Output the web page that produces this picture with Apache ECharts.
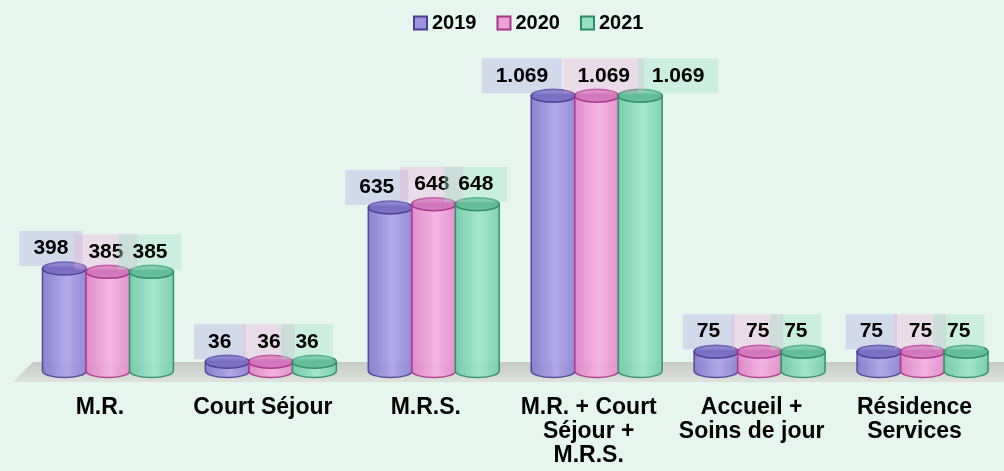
<!DOCTYPE html>
<html>
<head>
<meta charset="utf-8">
<script src="https://cdn.jsdelivr.net/npm/echarts@6/dist/echarts.min.js"></script>
<style>
  html, body { margin: 0; padding: 0; background: #e7f5ef; }
  #main { width: 1004px; height: 471px; }
</style>
</head>
<body>
<div id="main"></div>
<script>
// chart data
var categories = ['M.R.', 'Court Séjour', 'M.R.S.', 'M.R. + Court\nSéjour +\nM.R.S.', 'Accueil +\nSoins de jour', 'Résidence\nServices'];
var years = ['2019', '2020', '2021'];
var values2019 = [398, 36, 635, 1069, 75, 75];
var values2020 = [385, 36, 648, 1069, 75, 75];
var values2021 = [385, 36, 648, 1069, 75, 75];

var font = '"Liberation Sans", Arial, sans-serif';

// look of each cylinder set; spread = how far a long label is pushed aside
var looks = [
  { body: ['#8275ca', '#aca2ea', '#8a7ed0'], top: '#7a6dc4', border: '#4b3f90', legend: '#9d92dc',
    bg: 'rgba(170,165,225,0.35)', align: 'right', dx: 18, spread: -0.5 },
  { body: ['#de80c4', '#f6afe2', '#e288c9'], top: '#d276ba', border: '#a83487', legend: '#eaa2da',
    bg: 'rgba(238,172,218,0.35)', align: 'center', dx: -2, spread: 0.5 },
  { body: ['#6cc8a5', '#9de6ca', '#72cca9'], top: '#62bd9a', border: '#2f8a66', legend: '#97e0c4',
    bg: 'rgba(160,228,200,0.4)', align: 'left', dx: -33, spread: 1.7 }
];

function fmt(v) {
  return String(v).replace(/\B(?=(\d{3})+(?!\d))/g, '.');
}

function cylinder(idx) {
  var look = looks[idx];
  return function (params, api) {
    var top = api.coord([api.value(0), api.value(1)]);
    var base = api.coord([api.value(0), 0]);
    var rx = 22, ry = 6.5;
    var cx = base[0] + (idx - 1) * 43.5;
    var l = cx - rx, r = cx + rx, yt = top[1], yb = base[1];
    var txt = fmt(api.value(1));
    var extra = Math.max(0, txt.length - 3) * 9;
    var bodyPath = 'M' + l + ' ' + yt + ' L' + l + ' ' + yb +
      ' A' + rx + ' ' + ry + ' 0 0 0 ' + r + ' ' + yb + ' L' + r + ' ' + yt + ' Z';
    var topPath = 'M' + l + ' ' + yt + ' A' + rx + ' ' + ry + ' 0 1 0 ' + r + ' ' + yt +
      ' A' + rx + ' ' + ry + ' 0 1 0 ' + l + ' ' + yt + ' Z';
    return {
      type: 'group',
      children: [
        {
          type: 'path',
          shape: { pathData: bodyPath },
          style: {
            fill: {
              type: 'linear', x: 0, y: 0, x2: 1, y2: 0,
              colorStops: [
                { offset: 0, color: look.body[0] },
                { offset: 0.55, color: look.body[1] },
                { offset: 1, color: look.body[2] }
              ]
            },
            stroke: look.border, lineWidth: 1.5, opacity: 0.9
          }
        },
        {
          type: 'path',
          shape: { pathData: topPath },
          style: { fill: look.top, stroke: look.border, lineWidth: 1.5, opacity: 0.95 }
        },
        {
          type: 'text',
          z2: 10,
          x: cx + look.dx + look.spread * extra,
          y: yt - 20,
          style: {
            text: txt,
            font: 'bold 21px ' + font,
            fill: '#000',
            align: look.align,
            verticalAlign: 'middle',
            backgroundColor: look.bg,
            padding: [7, 14]
          }
        }
      ]
    };
  };
}

var allValues = [values2019, values2020, values2021];

var chart = echarts.init(document.getElementById('main'));
chart.setOption({
  backgroundColor: '#e7f5ef',
  animation: false,
  legend: {
    top: 8,
    left: 408,
    icon: 'rect',
    itemWidth: 13,
    itemHeight: 13,
    itemGap: 20,
    textStyle: { fontFamily: font, fontWeight: 'bold', fontSize: 20, color: '#000' },
    data: years
  },
  grid: { left: 26.5, right: -12.5, top: 62, bottom: 100 },
  xAxis: {
    type: 'category',
    data: categories,
    axisLine: { show: false },
    axisTick: { show: false },
    axisLabel: {
      interval: 0,
      margin: 25,
      color: '#000',
      fontFamily: font,
      fontWeight: 'bold',
      fontSize: 23,
      lineHeight: 24,
      padding: [0, 16, 0, 0]
    }
  },
  yAxis: { type: 'value', min: 0, max: 1200, show: false, splitLine: { show: false } },
  graphic: [
    {
      type: 'polygon',
      silent: true,
      z: 0,
      shape: { points: [[33, 362], [1004, 362], [1004, 382], [13, 382]] },
      style: {
        fill: {
          type: 'linear', x: 0, y: 0, x2: 0, y2: 1,
          colorStops: [{ offset: 0, color: '#c6cbc5' }, { offset: 1, color: '#dde2dc' }]
        }
      }
    }
  ],
  series: years.map(function (y, i) {
    return {
      name: y,
      type: 'custom',
      renderItem: cylinder(i),
      itemStyle: { color: looks[i].legend, borderColor: looks[i].border, borderWidth: 1.5 },
      data: allValues[i].map(function (v, j) { return [j, v]; })
    };
  })
});
</script>
</body>
</html>
